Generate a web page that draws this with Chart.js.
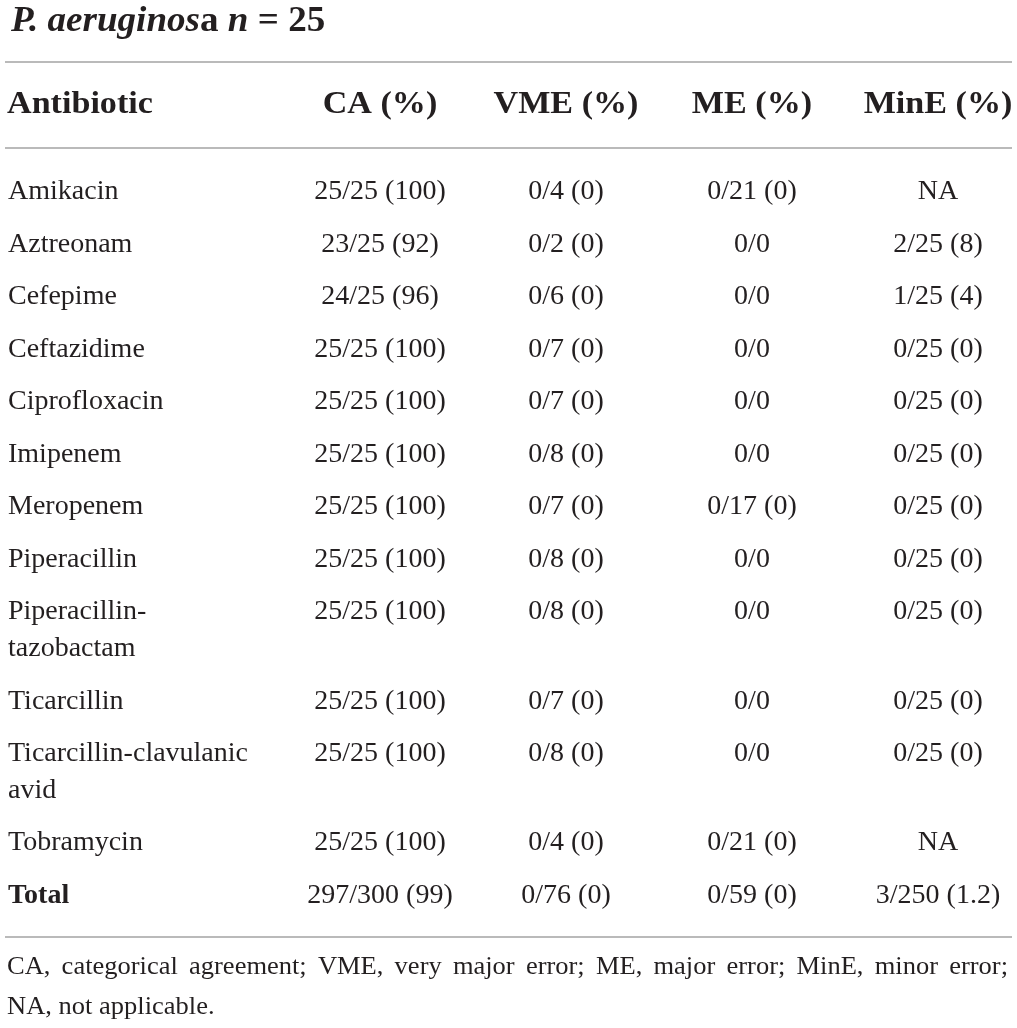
<!DOCTYPE html>
<html>
<head>
<meta charset="utf-8">
<script src="https://cdn.jsdelivr.net/npm/chart.js@4"></script>
<style>
  html, body { margin: 0; padding: 0; background: #fff; }
  #wrap { width: 1017px; height: 1028px; position: relative; }
</style>
</head>
<body>
<div id="wrap"><canvas id="tableChart"></canvas></div>
<script>
// table data, one array per column
const antibiotics = [
  'Amikacin', 'Aztreonam', 'Cefepime', 'Ceftazidime', 'Ciprofloxacin', 'Imipenem',
  'Meropenem', 'Piperacillin', ['Piperacillin-', 'tazobactam'], 'Ticarcillin',
  ['Ticarcillin-clavulanic', 'avid'], 'Tobramycin', 'Total'
];
const caValues = ['25/25 (100)', '23/25 (92)', '24/25 (96)', '25/25 (100)', '25/25 (100)', '25/25 (100)',
  '25/25 (100)', '25/25 (100)', '25/25 (100)', '25/25 (100)', '25/25 (100)', '25/25 (100)', '297/300 (99)'];
const vmeValues = ['0/4 (0)', '0/2 (0)', '0/6 (0)', '0/7 (0)', '0/7 (0)', '0/8 (0)',
  '0/7 (0)', '0/8 (0)', '0/8 (0)', '0/7 (0)', '0/8 (0)', '0/4 (0)', '0/76 (0)'];
const meValues = ['0/21 (0)', '0/0', '0/0', '0/0', '0/0', '0/0',
  '0/17 (0)', '0/0', '0/0', '0/0', '0/0', '0/21 (0)', '0/59 (0)'];
const mineValues = ['NA', '2/25 (8)', '1/25 (4)', '0/25 (0)', '0/25 (0)', '0/25 (0)',
  '0/25 (0)', '0/25 (0)', '0/25 (0)', '0/25 (0)', '0/25 (0)', 'NA', '3/250 (1.2)'];
const headers = ['Antibiotic', 'CA (%)', 'VME (%)', 'ME (%)', 'MinE (%)'];
const footnote = [
  'CA, categorical agreement; VME, very major error; ME, major error; MinE, minor error;',
  'NA, not applicable.'
];

const TEXT = '#231f20';
const RULE = '#a3a3a3';
const SERIF = '"Liberation Serif", "Times New Roman", serif';
const LINE_H = 37;          // px between wrapped lines in a cell
const EXTRA_LINE = 0.705;   // the same, in row units

// row positions follow from how many lines each label wraps to
const rowPos = [];
antibiotics.forEach((lab, i) => {
  if (i === 0) { rowPos.push(0); return; }
  const prev = antibiotics[i - 1];
  const extra = Array.isArray(prev) ? prev.length - 1 : 0;
  rowPos.push(rowPos[i - 1] + 1 + extra * EXTRA_LINE);
});

const columns = [antibiotics, caValues, vmeValues, meValues, mineValues];
const colX = [-2, 0, 1, 2, 3];

const datasets = columns.map((col, c) => ({
  label: headers[c],
  data: col.map((v, r) => ({ x: colX[c], y: rowPos[r], text: v })),
  pointRadius: 0,
  pointHoverRadius: 0,
  showLine: false
}));

// draw text stretched horizontally (the original face is wider than ours)
function wideText(ctx, s, x, y, sx, align) {
  const w = ctx.measureText(s).width * sx;
  let left = x;
  if (align === 'center') left = x - w / 2;
  ctx.save();
  ctx.textAlign = 'left';
  ctx.translate(left, y);
  ctx.scale(sx, 1);
  ctx.fillText(s, 0, 0);
  ctx.restore();
  return w;
}

const tablePlugin = {
  id: 'tableText',
  afterDatasetsDraw(chart) {
    const ctx = chart.ctx;
    const area = chart.chartArea;
    const W = chart.width;
    ctx.save();
    ctx.fillStyle = TEXT;
    ctx.textBaseline = 'middle';

    // title
    let tx = 11;
    const titleParts = [
      ['italic bold 35px ' + SERIF, 'P. aeruginos'],
      ['bold 35px ' + SERIF, 'a '],
      ['italic bold 35px ' + SERIF, 'n'],
      ['bold 35px ' + SERIF, ' = 25']
    ];
    titleParts.forEach(([f, s]) => {
      ctx.font = f;
      tx += wideText(ctx, s, tx, 22, 1.06, 'left');
    });

    // rules
    ctx.strokeStyle = RULE;
    ctx.lineWidth = 1.6;
    [area.top - 86, area.top, area.bottom].forEach(y => {
      ctx.beginPath();
      ctx.moveTo(5, y);
      ctx.lineTo(W - 5, y);
      ctx.stroke();
    });

    // header row
    ctx.font = 'bold 31px ' + SERIF;
    const xs = chart.scales.x;
    headers.forEach((h, c) => {
      const px = xs.getPixelForValue(colX[c]);
      wideText(ctx, h, c === 0 ? px - 1 : px, area.top - 43, 1.1, c === 0 ? 'left' : 'center');
    });

    // cells, placed at each point's scale position
    chart.data.datasets.forEach((ds, c) => {
      const meta = chart.getDatasetMeta(c);
      meta.data.forEach((pt, r) => {
        const isTotal = r === ds.data.length - 1;
        ctx.font = (isTotal && c === 0 ? 'bold ' : '') + '28px ' + SERIF;
        ctx.textAlign = c === 0 ? 'left' : 'center';
        const lines = [].concat(ds.data[r].text);
        lines.forEach((s, k) => ctx.fillText(s, pt.x, pt.y + k * LINE_H));
      });
    });

    // footnote, justified first line
    ctx.font = '25px ' + SERIF;
    const FS = 1.06;
    const left = 7, right = W - 9;
    const words = footnote[0].split(' ');
    const wordsW = words.reduce((s, w) => s + ctx.measureText(w).width * FS, 0);
    const gap = (right - left - wordsW) / (words.length - 1);
    const y1 = area.bottom + 30;
    let fx = left;
    words.forEach(w => {
      fx += wideText(ctx, w, fx, y1, FS, 'left') + Math.max(gap, 4);
    });
    wideText(ctx, footnote[1], left, area.bottom + 70, FS, 'left');
    ctx.restore();
  }
};

new Chart(document.getElementById('tableChart').getContext('2d'), {
  type: 'scatter',
  data: { datasets: datasets },
  options: {
    responsive: true,
    maintainAspectRatio: false,
    animation: false,
    events: [],
    layout: { padding: { left: 8, right: 79, top: 148, bottom: 91 } },
    plugins: { legend: { display: false }, tooltip: { enabled: false } },
    scales: {
      x: { type: 'linear', min: -2, max: 3, display: false },
      y: { type: 'linear', reverse: true, min: -0.84, max: 14.2, display: false }
    }
  },
  plugins: [tablePlugin]
});
</script>
</body>
</html>
